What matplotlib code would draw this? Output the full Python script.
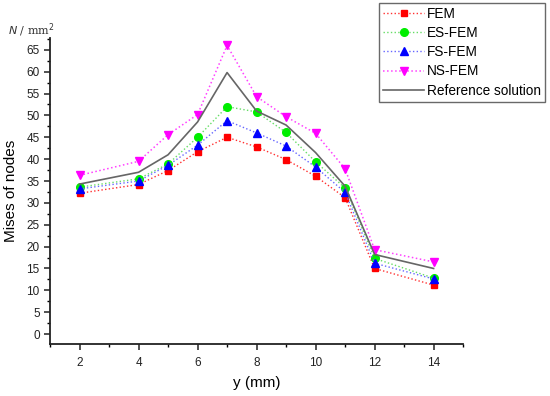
import numpy as np
import matplotlib
matplotlib.use("Agg")
from matplotlib import pyplot as plt
from matplotlib.ticker import MultipleLocator

plt.rcParams['font.family'] = ['Liberation Sans', 'DejaVu Sans']

y_mm = [2, 4, 5, 6, 7, 8, 9, 10, 11, 12, 14]
fem = [32.2, 34.2, 37.4, 41.7, 45.0, 42.8, 39.9, 36.1, 31.2, 15.0, 11.2]
es_fem = [33.6, 35.5, 38.9, 45.0, 52.0, 50.8, 46.1, 39.4, 33.4, 17.3, 12.8]
fs_fem = [33.2, 35.0, 38.6, 43.2, 48.8, 46.0, 43.0, 38.2, 32.4, 16.2, 12.6]
ns_fem = [36.3, 39.5, 45.6, 50.2, 66.0, 54.3, 49.7, 45.9, 37.8, 19.3, 16.5]
ref = [34.3, 37.0, 41.0, 48.5, 59.8, 51.0, 47.8, 41.5, 33.8, 18.2, 15.0]

fig = plt.figure(figsize=(5.5, 3.96), dpi=100)
ax = fig.add_axes([0.091, 0.131, 0.751, 0.773])

ax.plot(y_mm, fem, ':', color='#ff3030', lw=1, marker='s', ms=5,
        mfc='#ff0000', mec='#ff0000', label='FEM')
ax.plot(y_mm, es_fem, ':', color='#66dd66', lw=1, marker='o', ms=5.5,
        mfc='#00ee00', mec='#00ee00', label='ES-FEM')
ax.plot(y_mm, fs_fem, ':', color='#6666ff', lw=1, marker='^', ms=6,
        mfc='#0000ff', mec='#0000ff', label='FS-FEM')
ax.plot(y_mm, ns_fem, ':', color='#ff40ff', lw=1.1, marker='v', ms=6,
        mfc='#ff00ff', mec='#ff00ff', label='NS-FEM')
ax.plot(y_mm, ref, '-', color='#666666', lw=1.2, label='Reference solution')

ax.set_xlim(1, 15)
ax.set_ylim(-2.3, 67.7)
ax.xaxis.set_major_locator(MultipleLocator(2))
ax.xaxis.set_minor_locator(MultipleLocator(1))
ax.yaxis.set_major_locator(MultipleLocator(5))
ax.yaxis.set_minor_locator(MultipleLocator(2.5))
ax.spines['top'].set_visible(False)
ax.spines['right'].set_visible(False)
for s in ['left', 'bottom']:
    ax.spines[s].set_linewidth(1.3)
    ax.spines[s].set_color('#222222')
ax.tick_params(which='major', direction='out', length=4, width=1.1,
               labelsize=8.5, colors='#222222')
ax.tick_params(which='minor', direction='out', length=2.5, width=1)
ax.tick_params(axis='x', pad=5)

ax.set_xlabel('y (mm)', fontsize=11, labelpad=5)
ax.set_ylabel('Mises of nodes', fontsize=11, labelpad=6)
fig.text(0.015, 0.915, r'$N$ / mm$^2$', fontsize=8, family='DejaVu Serif',
         color='#333333')

leg = fig.legend(loc='upper right', bbox_to_anchor=(0.991, 0.993),
                 fontsize=9.8, frameon=True, fancybox=False,
                 handlelength=3.0, handletextpad=0.2, borderpad=0.3,
                 labelspacing=0.38, borderaxespad=0)
leg.get_frame().set_edgecolor('#444444')
leg.get_frame().set_linewidth(1)

fig.savefig('out.png', dpi=100)
